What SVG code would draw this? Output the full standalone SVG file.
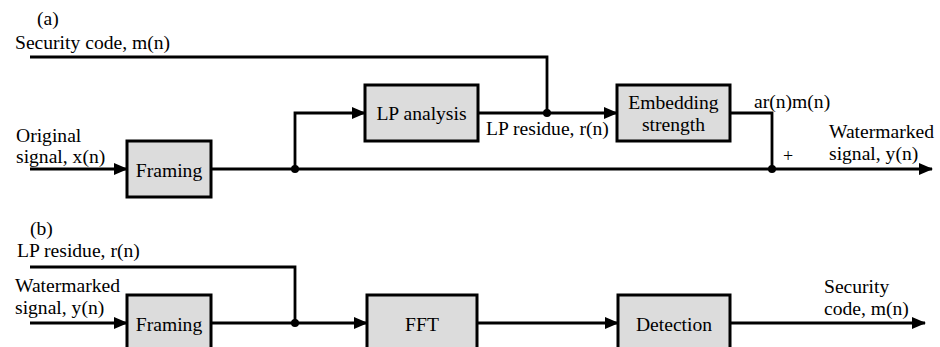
<svg xmlns="http://www.w3.org/2000/svg" width="940" height="347" viewBox="0 0 940 347">
<style>
text{font-family:"Liberation Serif","Times New Roman",serif;font-size:19.6px;fill:#000}
.c{text-anchor:middle}
.box{fill:#dcdcdc;stroke:#000;stroke-width:3}
.ln{fill:none;stroke:#000;stroke-width:2.8}
.arr{marker-end:url(#ah)}
</style>
<defs>
<marker id="ah" markerUnits="userSpaceOnUse" markerWidth="14" markerHeight="12" refX="13" refY="6" orient="auto">
<path d="M0,0 L14,6 L0,12 z" fill="#000"/>
</marker>
</defs>
<rect width="940" height="347" fill="#fff"/>
<g id="connectors">
<path class="ln" d="M30,57 H547 V113"/>
<path class="ln arr" d="M30,169 H127"/>
<path class="ln arr" d="M211,169 H932"/>
<path class="ln arr" d="M295,169 V113 H365"/>
<path class="ln arr" d="M478,113 H617"/>
<path class="ln" d="M730,113 H772 V169"/>
<circle cx="295" cy="169" r="4"/>
<circle cx="547" cy="113" r="4"/>
<circle cx="772" cy="169" r="4"/>
<path class="ln" d="M30,267 H295 V323"/>
<path class="ln arr" d="M30,323 H127"/>
<path class="ln arr" d="M211,323 H367"/>
<path class="ln arr" d="M477,323 H618"/>
<path class="ln arr" d="M730,323 H925"/>
<circle cx="295" cy="323" r="4"/>
</g>
<g id="labels">
<text x="37" y="25">(a)</text>
<text x="15" y="49">Security code, m(n)</text>
<text x="16" y="142">Original</text>
<text x="16" y="163">signal, x(n)</text>
<text x="486" y="135">LP residue, r(n)</text>
<text x="754" y="108">ar(n)m(n)</text>
<text x="788" y="162" class="c" style="font-size:18px">+</text>
<text x="829" y="138">Watermarked</text>
<text x="829" y="160">signal, y(n)</text>
<text x="30" y="235">(b)</text>
<text x="17" y="257">LP residue, r(n)</text>
<text x="15" y="292">Watermarked</text>
<text x="15" y="314">signal, y(n)</text>
<text x="824" y="293">Security</text>
<text x="824" y="315">code, m(n)</text>
</g>
<g id="framing-a"><rect class="box" x="127" y="141" width="84" height="56"/><text class="c" x="169" y="177">Framing</text></g>
<g id="lp-analysis"><rect class="box" x="365" y="85" width="113" height="56"/><text class="c" x="421.5" y="120">LP analysis</text></g>
<g id="embedding"><rect class="box" x="617" y="85" width="113" height="56"/><text class="c" x="673.5" y="109">Embedding</text><text class="c" x="673.5" y="131">strength</text></g>
<g id="framing-b"><rect class="box" x="127" y="295" width="84" height="56"/><text class="c" x="169" y="331">Framing</text></g>
<g id="fft"><rect class="box" x="367" y="295" width="110" height="56"/><text class="c" x="422" y="331">FFT</text></g>
<g id="detection"><rect class="box" x="618" y="295" width="112" height="56"/><text class="c" x="674" y="331">Detection</text></g>
</svg>
